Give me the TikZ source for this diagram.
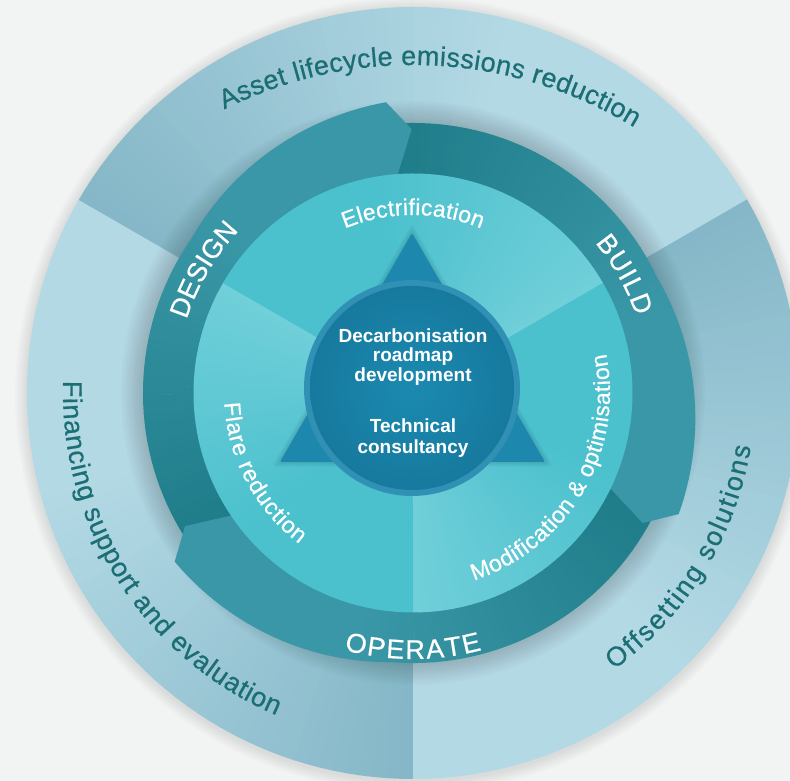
\documentclass[tikz,border=0pt]{standalone}
\usepackage{fontspec}
\setmainfont{Liberation Sans}
\newfontfamily\medfont{Liberation Sans}[FakeBold=0.6]
\usetikzlibrary{decorations.text}
\definecolor{bgc}{HTML}{F2F3F3}
\definecolor{oLight}{HTML}{B3D9E5}
\definecolor{oDark}{HTML}{84B6C7}
\definecolor{aLight}{HTML}{3A97A7}
\definecolor{aDark}{HTML}{1E7C89}
\definecolor{dLight}{HTML}{70CFD9}
\definecolor{dBase}{HTML}{4BC1CE}
\definecolor{cBlue}{HTML}{1E87AD}
\definecolor{cIn}{HTML}{1B8AB0}
\definecolor{cOut}{HTML}{17799E}
\definecolor{oText}{HTML}{1B6E73}
\newcommand\arrowwedges[1]{%
  \foreach \i in {0,...,62}{%
    \pgfmathsetmacro\a{#1+2*\i}%
    \pgfmathsetmacro\b{\a+2.1}%
    \pgfmathtruncatemacro\q{min(100,(125-2*\i)/126*160)}%
    \fill[aLight!\q!aDark] (0,0) -- (\a:300) arc[start angle=\a, end angle=\b, radius=300] -- cycle;
  }}
\tikzset{
  outertext/.style={decorate, decoration={text along path, text align={fit to path},
      text={|\medfont\fontsize{27}{27}\selectfont\color{oText}|#1}}},
  ringtext/.style={decorate, decoration={text along path, text align={fit to path},
      text={|\medfont\fontsize{27}{27}\selectfont\color{white}|#1}}},
  innertext/.style={decorate, decoration={text along path, text align={fit to path},
      text={|\medfont\fontsize{23}{23}\selectfont\color{white}|#1}}},
  centertext/.style={anchor=base, text=white, inner sep=0pt, font=\fontsize{19}{21}\selectfont\bfseries},
}
\begin{document}
\begin{tikzpicture}[x=1pt,y=1pt]
\useasboundingbox (0,0) rectangle (790,781);
\fill[bgc] (0,0) rectangle (790,781);
\begin{scope}[shift={(413,388)}]
  % soft shadow round the outer disk
  \foreach \k in {1,...,8}{\fill[black,opacity=0.012] (0,-2) circle[radius=386+1.5*\k];}
  % outer ring sectors
  \foreach \s in {30,150,270}{
    \foreach \i in {0,...,59}{
      \pgfmathtruncatemacro\p{max(0,min(100,(\i-22)*100/38))}
      \pgfmathsetmacro\a{\s+2*\i}
      \pgfmathsetmacro\b{\a+2.1}
      \fill[oDark!\p!oLight] (0,0) -- (\a:386) arc[start angle=\a, end angle=\b, radius=386] -- cycle;
    }}
  % shadow of the arrow ring
  \foreach \k in {1,...,10}{\fill[black,opacity=0.014] (0,0) circle[radius=270+2.2*\k];}
  % arrow bodies
  \foreach \T in {90.3,-29.5,-149.7}{
    \begin{scope}
      \clip ({\T+5}:219) arc[start angle={\T+5}, end angle={\T+126}, radius=219]
        -- ({\T+126}:270) arc[start angle={\T+126}, end angle={\T+5}, radius=270] -- cycle;
      \arrowwedges{\T}
    \end{scope}}
  % arrow heads
  \foreach \T in {90.3,-29.5,-149.7}{
    \begin{scope}
      \clip ({\T+3.7}:219) -- (\T:264) -- ({\T+5}:292)
        -- plot[domain={\T+5}:{\T+55}, samples=26] (\x:{270+22*(1-(\x-\T-5)/50)})
        -- ({\T+55}:219) arc[start angle={\T+55}, end angle={\T+3.7}, radius=219] -- cycle;
      \arrowwedges{\T}
    \end{scope}}
  % light inner disk
  \foreach \s in {30,150,270}{
    \foreach \i in {0,...,59}{
      \pgfmathsetmacro\a{\s+2*\i}
      \pgfmathsetmacro\b{\a+2.1}
      \pgfmathtruncatemacro\p{min(100,(2*\i+1)*100/70)}
      \fill[dBase!\p!dLight] (0,0) -- (\a:219.5) arc[start angle=\a, end angle=\b, radius=219.5] -- cycle;
    }}
  % centre
  \foreach \k in {1,...,6}{\fill[black,opacity=0.02,rounded corners=3pt] (-1,{160+1.6*\k}) -- ({-133-1.4*\k},{-69-0.8*\k}) -- ({132+1.4*\k},{-69-0.8*\k}) -- cycle;}
  \fill[cBlue, rounded corners=2pt] (-1,160) -- (-133,-69) -- (132,-69) -- cycle;
  \fill[cBlue!92!white] (-1,5) circle[radius=108];
  \shade[inner color=cIn, outer color=cOut] (-1,5) circle[radius=102];
  \node[centertext] (d1) at (0,50) {Decarbonisation};
  \node[centertext] (d2) at (0,31) {roadmap};
  \node[centertext] (d3) at (0,11) {development};
  \node[centertext] (t1) at (0,-40) {Technical};
  \node[centertext] (t2) at (0,-61) {consultancy};
  % curved texts
  \path[outertext=Asset lifecycle emissions reduction] (0,-95) ++(116.5:423) arc[start angle=116.5, end angle=58.5, radius=423];
  \path[outertext=Financing support and evaluation] (178:350) arc[start angle=178, end angle=247, radius=350];
  \path[outertext=Offsetting solutions] (-54:342) arc[start angle=-54, end angle=-9, radius=342];
  \path[ringtext=DESIGN] (162:238) arc[start angle=162, end angle=137, radius=238];
  \path[ringtext=BUILD] (39.5:236) arc[start angle=39.5, end angle=19, radius=236];
  \path[ringtext=OPERATE] (255:266) arc[start angle=255, end angle=285, radius=266];
  \path[innertext=Electrification] (112.5:178) arc[start angle=112.5, end angle=67.5, radius=178];
  \path[innertext=Flare reduction] (183:189) arc[start angle=183, end angle=233, radius=189];
  \path[innertext=Modification {\&} optimisation] (-72:197) arc[start angle=-72, end angle=11.5, radius=197];
\end{scope}
\end{tikzpicture}
\end{document}
